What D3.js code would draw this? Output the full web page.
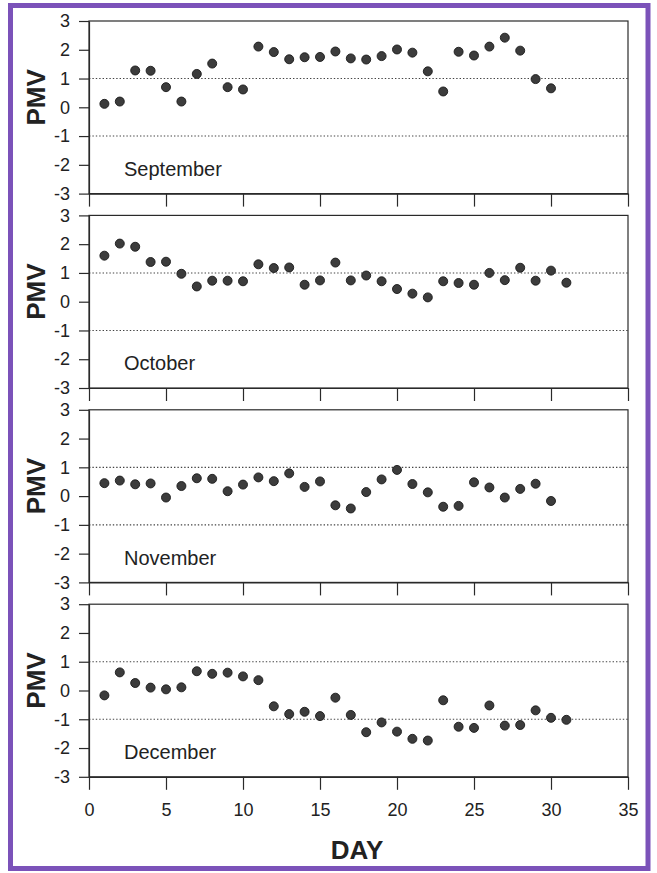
<!DOCTYPE html>
<html>
<head>
<meta charset="utf-8">
<script src="https://cdn.jsdelivr.net/npm/d3@7"></script>
<style>
  html, body { margin: 0; padding: 0; background: #fff; }
  svg { display: block; }
</style>
</head>
<body>
<svg id="chart" width="657" height="873"></svg>
<script>
// ---- data ----
const months = ["September", "October", "November", "December"];
const pmvSeptember = [0.12, 0.20, 1.28, 1.27, 0.70, 0.20, 1.16, 1.52, 0.70, 0.62,
  2.11, 1.92, 1.67, 1.74, 1.75, 1.94, 1.70, 1.66, 1.78, 2.01,
  1.90, 1.25, 0.55, 1.93, 1.80, 2.11, 2.42, 1.97, 0.98, 0.66];
const pmvOctober = [1.60, 2.02, 1.91, 1.38, 1.39, 0.97, 0.53, 0.73, 0.73, 0.71,
  1.30, 1.17, 1.19, 0.59, 0.74, 1.36, 0.74, 0.91, 0.71, 0.44,
  0.28, 0.15, 0.71, 0.65, 0.59, 1.00, 0.75, 1.18, 0.73, 1.08, 0.66];
const pmvNovember = [0.45, 0.54, 0.41, 0.44, -0.05, 0.35, 0.62, 0.60, 0.17, 0.40,
  0.65, 0.52, 0.79, 0.32, 0.51, -0.32, -0.43, 0.14, 0.58, 0.91,
  0.42, 0.13, -0.37, -0.34, 0.48, 0.30, -0.05, 0.25, 0.43, -0.17];
const pmvDecember = [-0.17, 0.63, 0.26, 0.10, 0.04, 0.11, 0.67, 0.58, 0.62, 0.49,
  0.36, -0.55, -0.82, -0.74, -0.89, -0.25, -0.85, -1.45, -1.11, -1.43,
  -1.68, -1.74, -0.34, -1.26, -1.30, -0.52, -1.22, -1.20, -0.69, -0.95, -1.02];
const seriesList = [pmvSeptember, pmvOctober, pmvNovember, pmvDecember];
const yTicks = [-3, -2, -1, 0, 1, 2, 3];
const xTicks = [0, 5, 10, 15, 20, 25, 30, 35];
const comfortLines = [1, -1];
const yLabel = "PMV";
const xLabel = "DAY";

// ---- layout ----
const svg = d3.select("#chart");
const font = "'Liberation Sans', Arial, Helvetica, sans-serif";
const left = 89, right = 628;
const panelTop0 = 21, panelStep = 194.4, panelH = 172.6;

// purple frame
svg.append("rect")
  .attr("x", 10.5).attr("y", 5.5).attr("width", 637.5).attr("height", 863)
  .attr("fill", "none").attr("stroke", "#7b52b9").attr("stroke-width", 5);

const x = d3.scaleLinear().domain([0, 35]).range([left, right]);
const plainNum = d => String(d);

seriesList.forEach((vals, i) => {
  const top = panelTop0 + i * panelStep;
  const y = d3.scaleLinear().domain([-3, 3]).range([top + panelH, top]);
  const g = svg.append("g");

  // comfort band dotted lines
  g.selectAll("line.grid").data(comfortLines).enter().append("line")
    .attr("x1", left).attr("x2", right)
    .attr("y1", d => y(d)).attr("y2", d => y(d))
    .attr("stroke", "#444").attr("stroke-width", 1.1)
    .attr("stroke-dasharray", "1.4,2");

  // frame (top and right)
  g.append("rect")
    .attr("x", left).attr("y", top).attr("width", right - left).attr("height", panelH)
    .attr("fill", "none").attr("stroke", "#2a2a2a").attr("stroke-width", 1.2);

  // y axis
  const ya = g.append("g").attr("transform", `translate(${left},0)`)
    .call(d3.axisLeft(y).tickValues(yTicks).tickFormat(plainNum)
      .tickSize(10).tickSizeOuter(0).tickPadding(9));
  ya.selectAll("text").attr("font-family", font).attr("font-size", 18).attr("fill", "#222");
  ya.selectAll("line, path").attr("stroke", "#2a2a2a").attr("stroke-width", 1.2);

  // x axis
  const xa = g.append("g").attr("transform", `translate(0,${top + panelH})`)
    .call(d3.axisBottom(x).tickValues(xTicks).tickSize(13).tickSizeOuter(0).tickPadding(13)
      .tickFormat(i === seriesList.length - 1 ? plainNum : () => ""));
  xa.selectAll("text").attr("font-family", font).attr("font-size", 18).attr("fill", "#222");
  xa.selectAll("line, path").attr("stroke", "#2a2a2a").attr("stroke-width", 1.2);

  // points
  g.selectAll("circle").data(vals).enter().append("circle")
    .attr("cx", (d, k) => x(k + 1))
    .attr("cy", d => y(d))
    .attr("r", 4.5)
    .attr("fill", "#3c3c3c").attr("stroke", "#1a1a1a").attr("stroke-width", 0.9);

  // month label
  g.append("text")
    .attr("x", 124).attr("y", top + 155)
    .attr("font-family", font).attr("font-size", 20).attr("fill", "#222")
    .text(months[i]);

  // PMV label
  const cy = top + panelH / 2 - 10;
  g.append("text")
    .attr("transform", `translate(45,${cy}) rotate(-90)`)
    .attr("text-anchor", "middle")
    .attr("font-family", font).attr("font-size", 26).attr("font-weight", "bold").attr("fill", "#222")
    .text(yLabel);
});

// x axis title
svg.append("text")
  .attr("x", 357).attr("y", 859)
  .attr("text-anchor", "middle")
  .attr("font-family", font).attr("font-size", 26).attr("font-weight", "bold").attr("fill", "#222")
  .text(xLabel);
</script>
</body>
</html>
